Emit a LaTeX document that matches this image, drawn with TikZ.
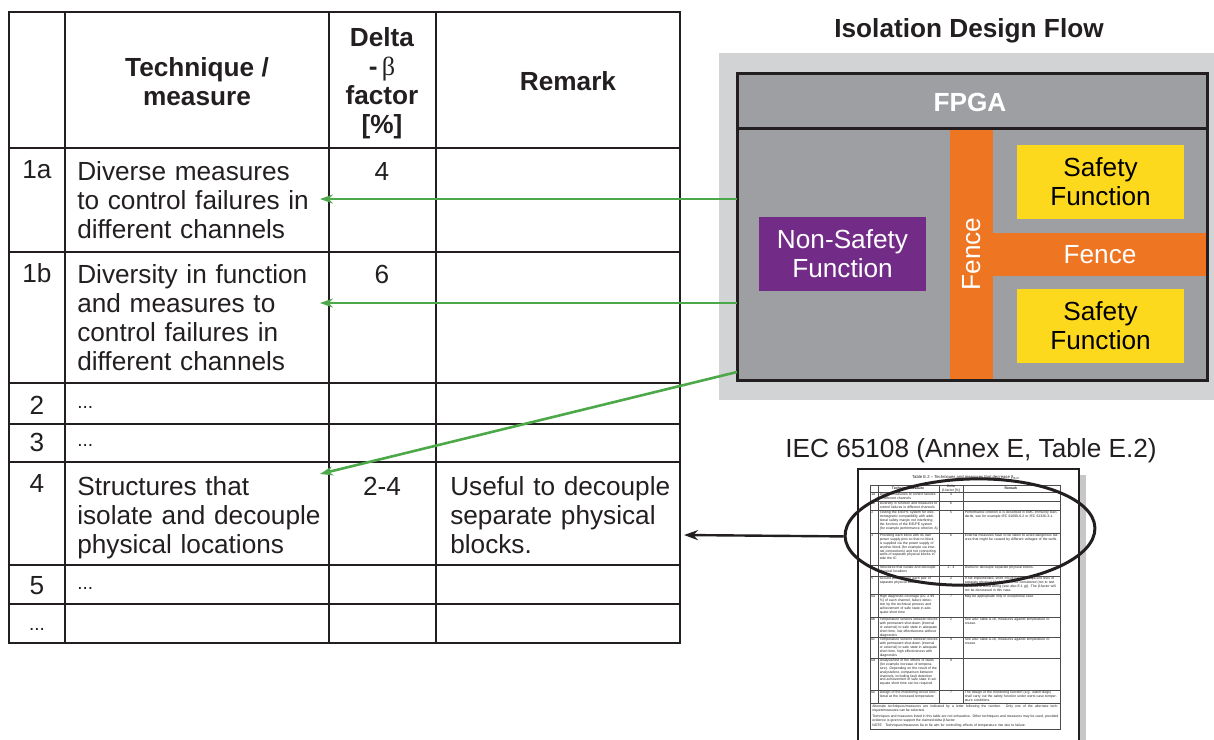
\documentclass[tikz,border=0pt]{standalone}
\usepackage{fontspec}
\setmainfont{Liberation Sans}
\newfontfamily\greekserif{Liberation Serif}
\usetikzlibrary{arrows.meta,shapes.geometric}

\definecolor{ink}{RGB}{35,31,32}
\definecolor{idfgreen}{RGB}{77,168,74}
\definecolor{panel}{RGB}{209,211,212}
\definecolor{chip}{RGB}{158,159,163}
\definecolor{fenceor}{RGB}{238,118,35}
\definecolor{safeyel}{RGB}{252,217,28}
\definecolor{nonsafe}{RGB}{114,44,135}

\newcommand{\bigtxt}{\fontsize{26.2}{29}\selectfont}
\newcommand{\thumbtxt}{\fontsize{3.45}{3.8}\selectfont}
% one row of the small IEC table
\newcommand{\thumbrow}[5]{%
  \node[tt] (thn#2) at (871,#1+1) {#2};
  \node[tt,text width=58pt] (tht#2) at (879.5,#1+1) {#3};
  \node[tt,anchor=north] (thd#2) at (951,#1+1) {#4};
  \node[tt,text width=94pt] (thr#2) at (964.5,#1+1) {#5};}

\begin{document}
\begin{tikzpicture}[x=1pt,y=-1pt,>={Stealth[length=13pt,width=9pt]},semithick]
  \tikzstyle{txt}=[font=\bigtxt,text=ink,inner sep=0pt]
  \tikzstyle{head}=[txt,font=\bfseries\bigtxt,align=center]
  \tikzstyle{cell}=[txt,anchor=base west,text width=260pt,align=left]
  \tikzstyle{num}=[txt,anchor=base]
  \tikzstyle{dots}=[txt,font=\fontsize{19}{20}\selectfont,anchor=base west]
  \tikzstyle{rule}=[draw=ink,line width=1.3pt]
  \tikzstyle{block}=[font=\bigtxt,align=center,inner sep=0pt,minimum width=167pt,minimum height=74pt]
  \tikzstyle{fence}=[fill=fenceor,text=white,font=\bigtxt,inner sep=0pt]
  \tikzstyle{link}=[->,draw=idfgreen,line width=2.6pt]
  \tikzstyle{tt}=[font=\thumbtxt,text=ink,inner sep=0pt,anchor=north west,align=left]

  \useasboundingbox (0,0) rectangle (1214,739);

  % table
  \foreach \y in {148,252,383,424,462,565,604}
    \draw[rule] (9,\y) -- (680,\y);
  \foreach \x in {65,329,436}
    \draw[rule] (\x,12) -- (\x,643);
  \draw[rule,line width=2.2pt] (9,12) rectangle (680,643);

  \node[head] (hTech) at (197,82) {Technique /\\measure};
  \node[head] (hDelta) at (382,83) {Delta\\-\,{\greekserif\mdseries β}\\factor\\{[\%]}};
  \node[head] (hRemark) at (568,81) {Remark};

  \node[num] (n1a) at (37,178) {1a};
  \node[cell] (t1a) at (77,180) {Diverse measures\\to control failures in\\different channels};
  \node[num] (d1a) at (382,180) {4};
  \node[num] (n1b) at (37,282) {1b};
  \node[cell] (t1b) at (77,283) {Diversity in function\\and measures to\\control failures in\\different channels};
  \node[num] (d1b) at (382,283) {6};
  \node[num] (n2) at (37,414) {2};
  \node[dots] (t2) at (77,408) {...};
  \node[num] (n3) at (37,451) {3};
  \node[dots] (t3) at (77,446) {...};
  \node[num] (n4) at (37,492) {4};
  \node[cell] (t4) at (77,495) {Structures that\\isolate and decouple\\physical locations};
  \node[num] (d4) at (382,495) {2-4};
  \node[cell] (r4) at (450,495) {Useful to decouple\\separate physical\\blocks.};
  \node[num] (n5) at (37,594) {5};
  \node[dots] (t5) at (77,589) {...};
  \node[dots,anchor=base] (nx) at (37,630) {...};

  % isolation design flow
  \node[head] (title) at (969,31) {Isolation Design Flow};
  \fill[panel] (719,53) rectangle (1214,400);
  \node[fill=chip,minimum width=470pt,minimum height=307pt,inner sep=0pt,anchor=north west] (fpga) at (737,73) {};
  \node[txt,text=white,font=\bfseries\bigtxt] (fpgalbl) at (970,102) {FPGA};
  \node[fence,rotate=90,minimum width=252pt,minimum height=43pt] (fencev) at (971.5,254) {Fence};
  \node[fence,minimum width=214pt,minimum height=43pt] (fenceh) at (1100,254.5) {Fence};
  \node[block,fill=nonsafe,text=white] (nsf) at (842.5,254) {Non-Safety\\Function};
  \node[block,fill=safeyel,text=black] (sf1) at (1100.5,182) {Safety\\Function};
  \node[block,fill=safeyel,text=black] (sf2) at (1100.5,326) {Safety\\Function};
  \draw[ink,line width=3pt] (fpga.north west) rectangle (fpga.south east);
  \draw[ink,line width=3pt] (737,128) -- (1207,128);

  \coordinate (a1) at (320,199);
  \coordinate (a2) at (320,303);
  \coordinate (a3) at (320,474);
  \coordinate (f3) at (737,372);
  \draw[link] (fpga.west |- a1) -- (a1);
  \draw[link] (fpga.west |- a2) -- (a2);
  \draw[link] (f3) -- (a3);

  % IEC page
  \node[txt] (iec) at (971,451) {IEC 65108 (Annex E, Table E.2)};
  \fill[black!22] (1079,475) rectangle (1086,745);
  \draw[ink,fill=white,line width=1.2pt] (858,469) rectangle (1079,745);
  \node[tt,font=\fontsize{4.2}{5}\selectfont,anchor=center] (ttitle) at (966,477) {Table E.2 -- Techniques and measures that decrease β\textsubscript{B-IC}};
  \foreach \y in {492,501,510,533,565,576,594,617,637,658,690,703}
    \draw[ink!80,line width=0.5pt] (870,\y) -- (1060,\y);
  \foreach \x in {878,939,963}
    \draw[ink!80,line width=0.5pt] (\x,485) -- (\x,703);
  \draw[ink!80,line width=0.6pt] (870,485) rectangle (1060,729);
  \node[tt,font=\bfseries\thumbtxt,anchor=center] (thh1) at (908,488.5) {Technique/measure};
  \node[tt,anchor=center,align=center] (thh2) at (951,488.5) {Delta\\β-factor [\%]};
  \node[tt,font=\bfseries\thumbtxt,anchor=center] (thh3) at (1011,488.5) {Remark};
  \thumbrow{492}{1a}{Diverse measures to control failures in different channels}{4}{}
  \thumbrow{501}{1b}{Diversity in function and measures to control failures in different channels}{6}{}
  \thumbrow{510}{2}{Testing the E/E/PE system for electromagnetic compatibility with additional safety margin not interfering the function of the E/E/PE system (for example performance criterion A)}{5}{Performance criterion A is described in EMC immunity standards, see for example IEC 61000-6-2 or IEC 61326-3-1.}
  \thumbrow{533}{3}{Providing each block with its own power supply pins so that no block is supplied via the power supply of another block (for example via internal connections) and not connecting wells of separate physical blocks inside the IC}{6}{External measures have to be taken to avoid dangerous failures that might be caused by different voltages of the wells.}
  \thumbrow{565}{4}{Structures that isolate and decouple physical locations}{2 - 4}{Useful to decouple separate physical blocks.}
  \thumbrow{576}{5}{Ground pin between each pair of separate physical blocks}{2}{If not implemented, short circuit between adjacent lines of separate physical blocks has to be considered (not to test for faults of bond wiring (see also E.1 g)). The β-factor will not be decreased in this case.}
  \thumbrow{594}{6a}{High diagnostic coverage (DC ≥ 99 \%) of each channel, failure detection by the technical process and achievement of safe state in adequate short time}{7}{May be appropriate only in exceptional case.}
  \thumbrow{617}{6b}{Temperature sensors between blocks with permanent shut-down (internal or external) to safe state in adequate short time, low effectiveness without diagnostics}{2}{See also Table A.16, measures against temperature increase.}
  \thumbrow{637}{6c}{Temperature sensors between blocks with permanent shut-down (internal or external) to safe state in adequate short time, high effectiveness with diagnostics}{9}{See also Table A.16, measures against temperature increase.}
  \thumbrow{658}{6d}{Analysis/test of the effects of faults (for example increase of temperature). Depending on the result of the analysis/test, comparison between channels, including fault detection and achievement of safe state in adequate short time can be required}{9}{}
  \thumbrow{690}{6e}{Design of the monitoring circuit functional at the increased temperature}{7}{The design of the monitoring function (e.g. watch-dogs) shall carry out the safety function under worst case temperature conditions.}
  \node[tt,text width=186pt,align=justify] (note1) at (872,705) {Alternate techniques/measures are indicated by a letter following the number. Only one of the alternate techniques/measures can be selected.};
  \node[tt,text width=186pt,align=justify] (note2) at (872,715) {Techniques and measures listed in this table are not exhaustive. Other techniques and measures may be used, provided evidence is given to support the claimed delta β-factor.};
  \node[tt,text width=186pt] (note3) at (872,724) {NOTE\quad Techniques/measures 6a to 6e aim for controlling effects of temperature rise due to failure.};

  \node[draw=ink,line width=3pt,ellipse,rotate=2,minimum width=250pt,minimum height=106pt,inner sep=0pt] (circ) at (970,532) {};
  \coordinate (tbledge) at (684,535);
  \draw[->,>={Stealth[length=14pt,width=10pt]},ink,line width=2.4pt] (circ.west) -- (tbledge);
\end{tikzpicture}
\end{document}
